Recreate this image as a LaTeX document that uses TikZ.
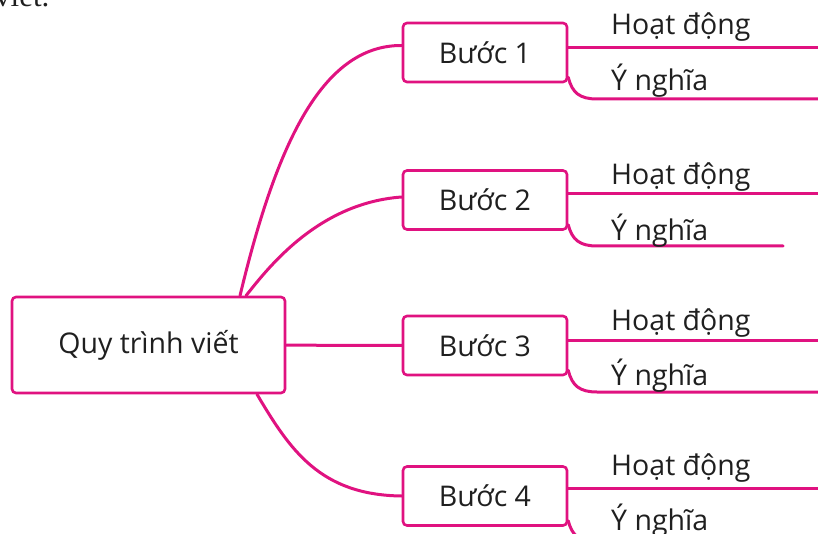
\documentclass[tikz,border=0pt]{standalone}
\usepackage{fontspec}
\setmainfont{Open Sans}
\newfontfamily\bookfont{Liberation Serif}
\definecolor{mindpink}{RGB}{224,18,128}
\tikzset{
  branch/.style={draw=mindpink, line width=3pt, line cap=round},
  mainbox/.style={draw=mindpink, line width=2.6pt, rounded corners=4pt,
    minimum width=273pt, minimum height=96pt, inner sep=0pt},
  stepbox/.style={draw=mindpink, line width=2.6pt, rounded corners=4pt,
    minimum width=164pt, minimum height=59pt, inner sep=0pt},
  leaf/.style={anchor=base west, inner sep=0pt}
}
\begin{document}
\begin{tikzpicture}[x=1pt, y=-1pt, font=\fontsize{28.5}{34}\selectfont, text=black!88]
  \useasboundingbox (0,0) rectangle (818,534);
  \node[leaf, font=\bookfont\fontsize{31}{34}\selectfont] (cap) at (-5,7) {viết.};
  \node[mainbox] (main) at (148.5,345) {Quy trình viết};
  \foreach \y/\hy/\hb/\ny/\nb/\nx [count=\i] in {52.5/48/35/99/91/818, 200/194/185/246/241/783, 345.5/340/330/392/385/818, 496/488/475/542/530/818}
  {
    \node[stepbox] (s\i) at (485,\y) {Bước \i};
    \coordinate (h\i) at (818,\hy);
    \coordinate (n\i) at (\nx,\ny);
    \draw[branch] (s\i.east |- h\i) -- (h\i);
    \draw[branch] ([yshift=6pt]s\i.south east) .. controls (572,\ny-6) and (580,\ny) .. (597,\ny) -- (n\i);
    \node[leaf] (hd\i) at (611,\hb) {Hoạt động};
    \node[leaf] (yn\i) at (611,\nb) {Ý nghĩa};
  }
  % nhanh tu khung chinh
  \draw[branch] ([xshift=91.5pt]main.north) .. controls (275,150) and (320,45) .. ([yshift=7pt]s1.west);
  \draw[branch] ([xshift=97.5pt]main.north) .. controls (268,268) and (318,203) .. ([yshift=3pt]s2.west);
  \draw[branch] (main) -- (s3);
  \draw[branch] ([xshift=108.5pt]main.south) .. controls (290,450) and (320,495) .. (s4.west);
\end{tikzpicture}
\end{document}
